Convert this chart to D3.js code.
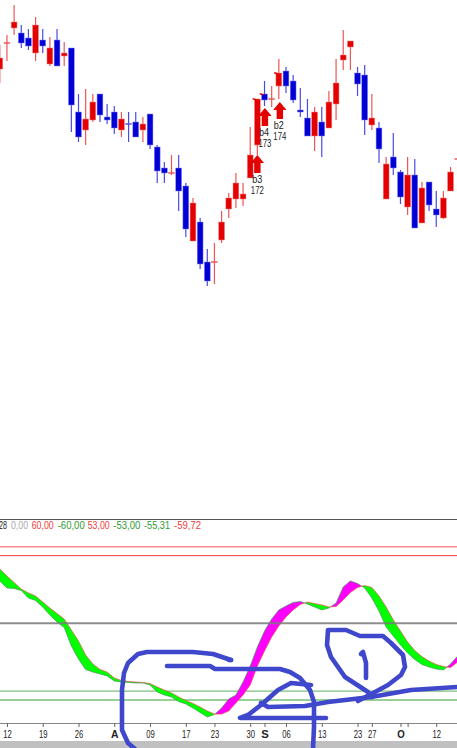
<!DOCTYPE html>
<html><head><meta charset="utf-8">
<script src="https://cdn.jsdelivr.net/npm/d3@7/dist/d3.min.js"></script>
<style>html,body{margin:0;padding:0;background:#fff;overflow:hidden}svg{display:block}text{font-family:"Liberation Sans",Arial,sans-serif}</style>
</head><body><svg id="c" width="457" height="748"></svg>
<script>
const opens =[231,257,272,267,262,247,260,236,260,244,252,188,170,180,206,183,188,170,176.5,178,170,186,153,132,127,132,114,59,78,38,38,60,91,101,101,122,155,206,201,214,229,219,190,182,164,178,172,196,240,253,227,225,175,172,101,143,128,93,125,77,118,91,82,109,141];
const closes=[242,257.5,278,257,254,275,254,252,234,247,195,163,181,198,185,180,172,181,176,163,176,155,129,127,127.5,109,71,97,36,19,38.5,78,102,117,106,145,201,200,201.5,227,214,200,188,164,188,164,198,217,245,259,216,180,182,151,136,132,103,125,72,112,95,85,102,128,141.5];
const highs =[255,265,295,275,271,283,271,263,271,258,252,206,211,206,206,196,194,188,188,188,183,186,155,138,145,145,117,102,82,51,57,89,107,127,117,173,201,219,214,241,233,225,212,201,193,193,209,241,270,259,233,235,206,178,143,167,130,143,141,118,118,109,109,133,142];
const lows  =[217,239,265,252,250,239,247,234,234,234,168,158,155,178,178,176,166,163,158,163,158,151,117,117,125,89,63,59,31,14,16,57,82,92,94,122,145,194,193,201,207,197,183,164,149,143,172,180,230,230,204,165,170,137,101,125,96,85,72,77,89,73,81,109,140];
const oscRed=[42.5,37.1,32.0,26.9,23.8,21.4,16.7,12.0,7.7,3.4,-5.2,-13.8,-24.8,-31.8,-36.1,-38.1,-42.8,-44.7,-45.5,-45.9,-46.3,-47.1,-49.8,-52.2,-54.5,-57.6,-60.4,-62.7,-65.5,-68.6,-71.0,-71.0,-68.6,-62.3,-56.1,-48.3,-33.4,-21.6,-10.7,-2.1,5.0,10.5,14.8,16.7,15.5,14.4,12.8,13.2,18.3,24.1,28.1,29.6,28.1,21.4,12.8,2.6,-6.0,-14.6,-21.3,-26.0,-29.5,-32.2,-33.8,-34.6,-30.3];
const oscGreen=[33.2,27.7,27.3,25.7,19.8,17.9,12.8,6.5,1.1,-3.2,-17.7,-27.9,-36.1,-38.1,-39.6,-41.2,-45.1,-45.9,-46.3,-46.7,-46.7,-48.3,-53.7,-56.1,-57.6,-61.2,-63.1,-66.3,-69.8,-73.3,-71.4,-66.3,-59.2,-56.1,-45.9,-33.4,-18.5,-6.0,3.4,10.5,13.6,16.3,17.1,15.1,12.8,10.5,12.0,15.9,28.5,33.2,31.2,27.7,19.8,9.7,-2.9,-9.9,-16.9,-23.2,-28.3,-32.2,-34.2,-35.7,-36.5,-31.8,-25.6];
const legendTexts=["28","0,00","60,00","-60,00","53,00","-53,00","-55,31","-59,72"];
const tickBars=[1,6,11,16,21,26,30,35,37,40,45,50,52,56,57,61];
const tickLabels=["12","19","26","A","09","17","23","30","S","06","13","23","27","O","","12"];
const signalBars=[36,37,39];
const signalNames=["b3","b4","b2"];
const signalNumbers=["172","173","174"];
const levelLines=[60,53,0,-53,-60];
// freehand pen strokes on the chart
const penStrokes=[
 [[231,660],[213,654],[193,652],[147,652],[138,654],[128,663],[124,673],[122,690],[122,730],[128,743],[135,749]],
 [[167,666],[210,666],[215,669],[228,669],[280,669],[290,672],[300,678],[310,690],[314,702],[314,727],[313,749]],
 [[311,685],[291,683],[278,690],[261,705],[248,715],[240,718],[326,718]],
 [[261,703],[268,707],[305,706],[328,702],[371,697],[411,690],[458,687]],
 [[372,697],[368,692],[345,677],[331,657],[327,645],[328,630],[346,630],[360,636],[383,636],[391,643],[403,655],[405,667],[401,675],[388,685],[375,692],[358,701]],
 [[361,654],[363,652],[366,663],[366,678]],
 [[229,660],[231,660]]
];

const svg=d3.select("#c");
const W=457;
const x=d3.scaleLinear().domain([0,64]).range([-0.2,457.7]);
const yP=d3.scaleLinear().domain([0,300]).range([300,0]);
const yO=d3.scaleLinear().domain([60,-60]).range([546.7,700]);
const pen=d3.scaleIdentity();
const RED="#e40000",BLUE="#0000d6";

// candles
const bars=d3.range(opens.length).map(i=>({i,o:opens[i],c:closes[i],h:highs[i],l:lows[i],up:closes[i]>=opens[i]}));
const gc=svg.append("g");
gc.selectAll("line.w").data(bars).join("line").attr("class","w")
 .attr("x1",d=>x(d.i)).attr("x2",d=>x(d.i)).attr("y1",d=>yP(d.h)).attr("y2",d=>yP(d.l))
 .attr("stroke",d=>d.up?"#ee5555":"#4a4ae6").attr("stroke-width",1.2);
gc.selectAll("rect.b").data(bars).join("rect").attr("class","b")
 .attr("x",d=>x(d.i)-2.9).attr("width",5.8)
 .attr("y",d=>yP(Math.max(d.o,d.c))).attr("height",d=>Math.max(1,Math.abs(yP(d.o)-yP(d.c))))
 .attr("fill",d=>d.up?RED:BLUE)
 .attr("stroke",d=>d.up?"#f08080":"#8080f0").attr("stroke-width",0.5);

// buy signals
const gs=svg.append("g");
const arrowOffset=[0,0.4,1];
const arrowTop=[155,108,102];
const arrowLen=[18,18,17];
const flagY=[98,93,72];
const labelOffset=[0,-1,-1];
signalBars.forEach((b,k)=>{
  const cx=x(b), ax=cx+arrowOffset[k], top=arrowTop[k], bot=top+arrowLen[k], fy=flagY[k];
  gs.append("path").attr("d",d3.line()([[ax,top],[ax+6.7,top+8],[ax+3.2,top+8],[ax+3.2,bot],[ax-3.2,bot],[ax-3.2,top+8],[ax-6.7,top+8]])+"Z").attr("fill",RED);
  gs.append("path").attr("d",d3.line()([[cx-4.8,fy],[cx-1,fy+1],[cx-1,fy+2.5],[cx-4.8,fy+1.5]])+"Z").attr("fill",RED);
  gs.append("text").attr("x",ax+labelOffset[k]).attr("y",bot+9.5).attr("text-anchor","middle").attr("font-size",10.5)
    .attr("fill","#222").attr("textLength",10).attr("lengthAdjust","spacingAndGlyphs").text(signalNames[k]);
  gs.append("text").attr("x",ax).attr("y",bot+21).attr("text-anchor","middle").attr("font-size",10.5)
    .attr("fill","#222").attr("textLength",13).attr("lengthAdjust","spacingAndGlyphs").text(signalNumbers[k]);
});

// oscillator frame lines
svg.append("line").attr("x1",0).attr("x2",W).attr("y1",519.5).attr("y2",519.5).attr("stroke","#555").attr("stroke-width",1);
const lvlStyle={60:["#ff8a8a",1.6],53:["#f03c3c",1],"-53":["#7fbf7f",1.2],"-60":["#30a030",1]};
levelLines.filter(v=>v!==0).forEach(v=>svg.append("line").attr("x1",0).attr("x2",W).attr("y1",yO(v)).attr("y2",yO(v))
   .attr("stroke",lvlStyle[v][0]).attr("stroke-width",lvlStyle[v][1]));

// oscillator ribbon: split at crossings
const pts=[];
oscRed.forEach((r,i)=>{
  const g=oscGreen[i];
  pts.push({i,r,g});
  if(i<oscRed.length-1){
    const d0=r-g,d1=oscRed[i+1]-oscGreen[i+1];
    if(d0*d1<0){const t=d0/(d0-d1);const v=r+t*(oscRed[i+1]-r);pts.push({i:i+t,r:v,g:v});}
  }
});
const areaGreen=d3.area().x(d=>x(d.i)).y0(d=>yO(d.r)).y1(d=>yO(Math.min(d.r,d.g)));
const areaMag=d3.area().x(d=>x(d.i)).y0(d=>yO(d.r)).y1(d=>yO(Math.max(d.r,d.g)));
svg.append("path").attr("d",areaGreen(pts)).attr("fill","#00ff00");
svg.append("path").attr("d",areaMag(pts)).attr("fill","#ff00ff");
const lineR=d3.line().x(d=>x(d.i)).y(d=>yO(d.r));
const lineG=d3.line().x(d=>x(d.i)).y(d=>yO(d.g));
svg.append("path").attr("d",lineG(pts)).attr("fill","none").attr("stroke","#3f9a5a").attr("stroke-width",0.7);
svg.append("path").attr("d",lineR(pts)).attr("fill","none").attr("stroke","#f05050").attr("stroke-width",0.7);
svg.append("line").attr("x1",0).attr("x2",W).attr("y1",yO(0)).attr("y2",yO(0)).attr("stroke","#7a7a7a").attr("stroke-opacity",0.85).attr("stroke-width",2);

// legend
const legendColors=["#222","#aaa","#f03c3c","#2f9a2f","#f03c3c","#2f9a2f","#2f9a2f","#f03c3c"];
const legendStart=[-1,11,31.7,57.7,87.7,113.3,144,174];
const legendWidth=[8,17,22,27,22,27,26,27];
legendTexts.forEach((t,i)=>svg.append("text").attr("x",legendStart[i]).attr("y",529).attr("font-size",11)
  .attr("fill",legendColors[i]).attr("textLength",legendWidth[i]).attr("lengthAdjust","spacingAndGlyphs").text(t));

// time axis
const isMonth=d=>/[ASO]/.test(tickLabels[tickBars.indexOf(d)]);
const axis=d3.axisBottom(x).tickValues(tickBars).tickFormat((d,i)=>tickLabels[i]).tickSize(4).tickPadding(3);
const ga=svg.append("g").attr("transform","translate(0,723)").call(axis);
ga.select(".domain").attr("d",`M0,0.5H${W}`).attr("stroke","#888").attr("stroke-width",1);
ga.selectAll(".tick line").attr("stroke","#666");
ga.selectAll(".tick text").attr("font-size",11).attr("fill","#222").attr("font-family",'"Liberation Sans",Arial,sans-serif')
  .attr("font-weight",d=>isMonth(d)?"bold":"normal")
  .attr("textLength",d=>isMonth(d)?7.5:8.5).attr("lengthAdjust","spacingAndGlyphs");
svg.append("rect").attr("x",0).attr("y",741).attr("width",W).attr("height",7).attr("fill","#c0c0c0");

// pen strokes
const penLine=d3.line().x(d=>pen(d[0])).y(d=>pen(d[1]));
svg.append("g").selectAll("path").data(penStrokes).join("path").attr("d",penLine)
 .attr("fill","none").attr("stroke","#3f48cc").attr("stroke-width",4.6).attr("stroke-linecap","round").attr("stroke-linejoin","round");
</script></body></html>
